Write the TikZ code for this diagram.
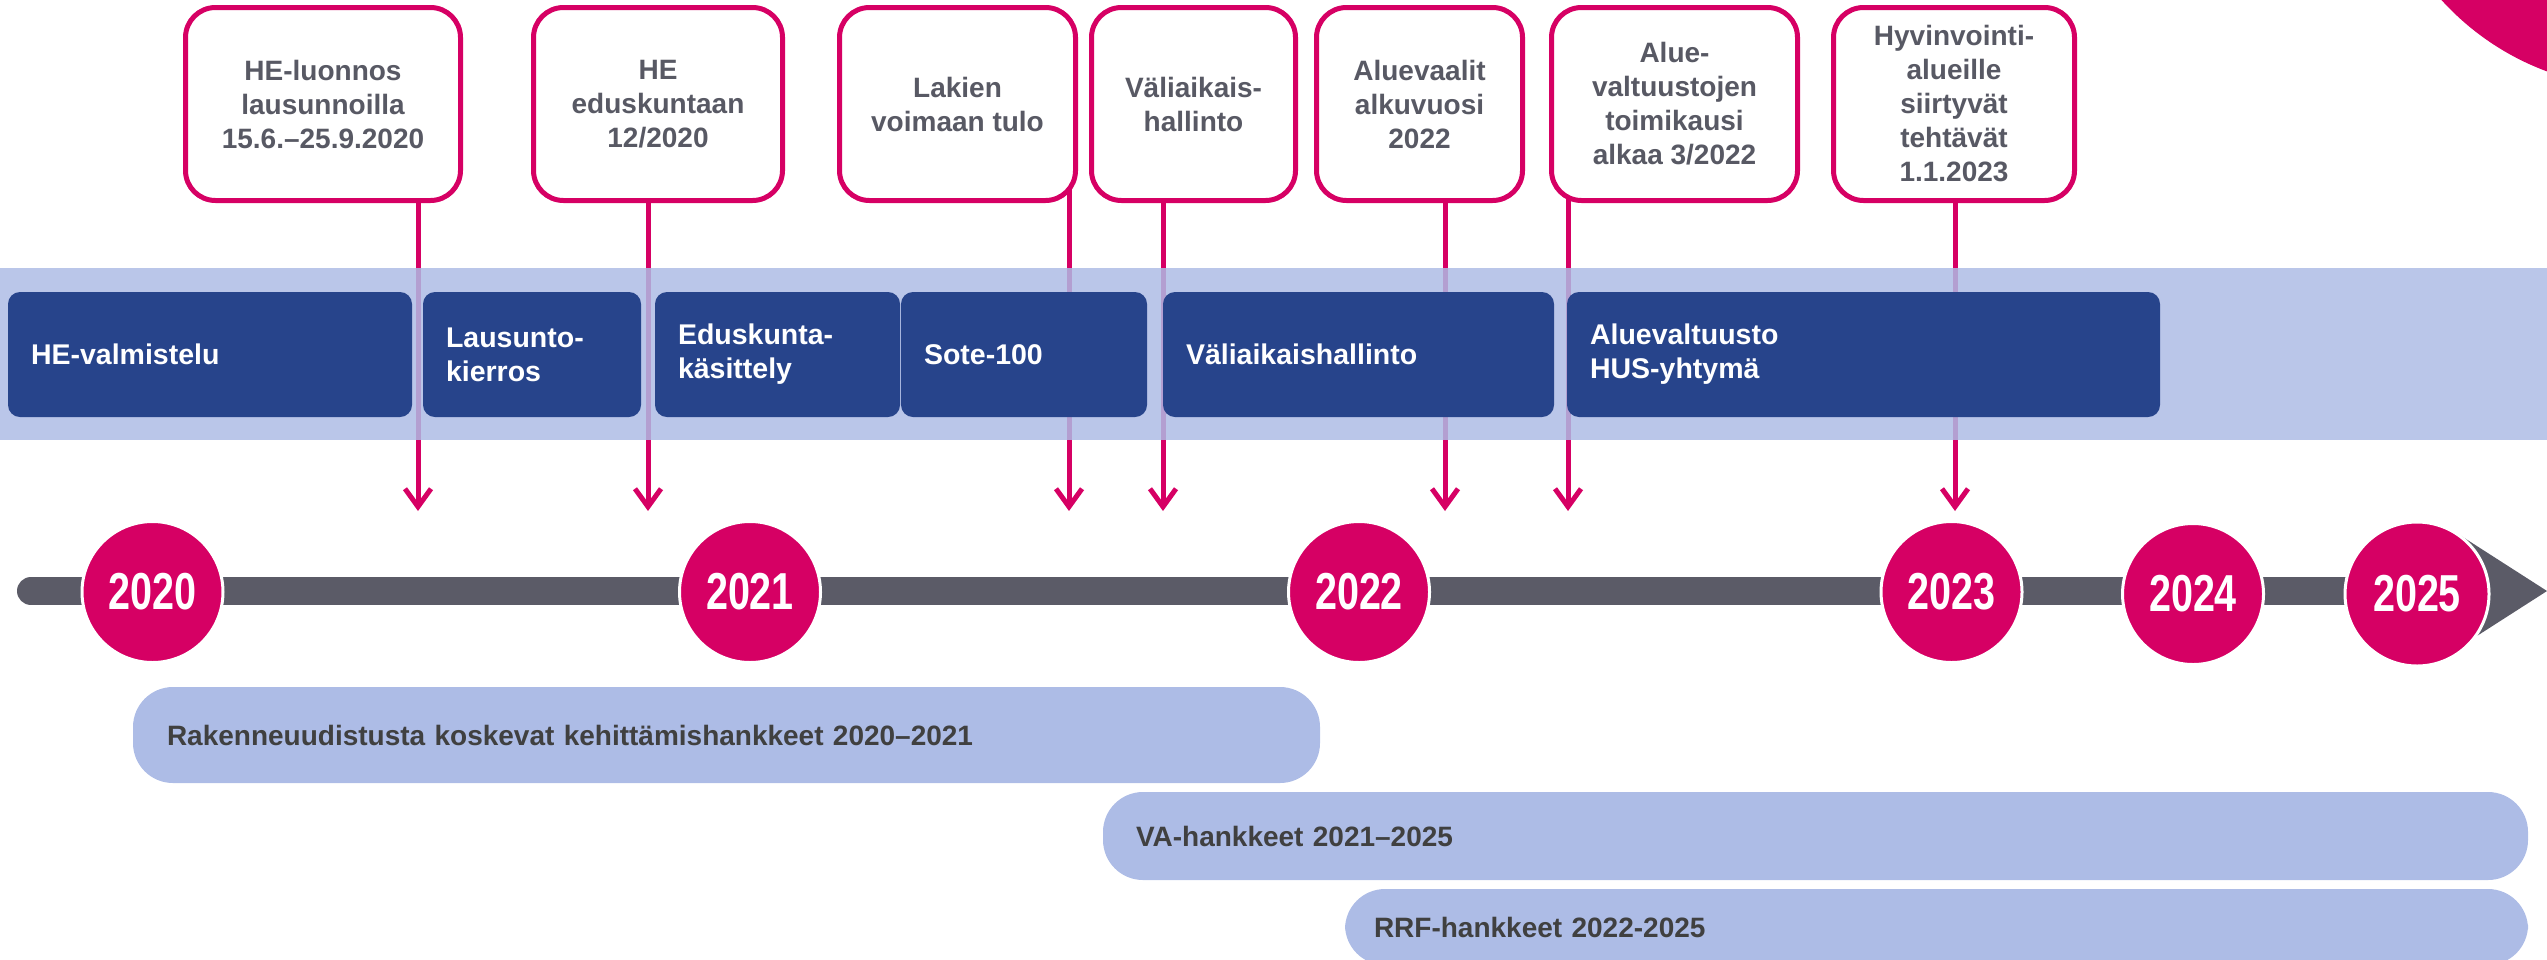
\documentclass[tikz,border=0pt]{standalone}
\usepackage{fontspec}
\setmainfont{Liberation Sans}
\usepackage{graphicx}
\usetikzlibrary{arrows.meta}
\definecolor{mag}{RGB}{214,0,100}
\definecolor{dblue}{RGB}{39,68,139}
\definecolor{bandc}{RGB}{174,188,229}
\definecolor{pbarc}{RGB}{173,188,230}
\definecolor{tlgrey}{RGB}{91,91,103}
\definecolor{ctext}{RGB}{88,89,100}
\definecolor{btext}{RGB}{64,64,64}
\newcommand\yrtxt[1]{\scalebox{0.76}[1]{#1}}
\pgfdeclarelayer{bg}
\pgfsetlayers{bg,main}
\begin{document}
\begin{tikzpicture}[x=1pt,y=-1pt,
  callout/.style={draw=mag, line width=5pt, fill=white, rounded corners=30pt,
    minimum height=193pt, align=center, text=ctext, inner sep=0pt,
    font=\bfseries\fontsize{28}{34}\selectfont},
  conn/.style={draw=mag, line width=5pt, -{Straight Barb[length=18pt,width=26pt]}},
  dbox/.style={fill=dblue, rounded corners=12pt, minimum height=125pt, text=white,
    align=left, inner xsep=23pt, inner ysep=0pt,
    font=\bfseries\fontsize{28.5}{34}\selectfont},
  yr/.style={circle, fill=mag, draw=white, line width=3pt, minimum size=141pt,
    inner sep=0pt, text=white, font=\bfseries\fontsize{52}{52}\selectfont},
  pbar/.style={fill=pbarc, rounded corners=40pt, align=left, text=btext, inner ysep=0pt,
    font=\bfseries\fontsize{28}{34}\selectfont}
]
\useasboundingbox (0,0) rectangle (2547,959);
\begin{scope}
\clip (0,0) rectangle (2547,959);
\fill[mag] (2640,-180) circle[radius=268pt];

% callouts
\node[callout, minimum width=275pt] (c1) at (323,104) {HE-luonnos\\lausunnoilla\\15.6.–25.9.2020};
\node[callout, minimum width=249pt] (c2) at (658,104) {HE\\eduskuntaan\\12/2020};
\node[callout, minimum width=236pt] (c3) at (957.5,104) {Lakien\\voimaan tulo};
\node[callout, minimum width=204pt] (c4) at (1193.5,104) {Väliaikais-\\hallinto};
\node[callout, minimum width=206pt] (c5) at (1419.5,104) {Aluevaalit\\alkuvuosi\\2022};
\node[callout, minimum width=246pt] (c6) at (1674.5,104) {Alue-\\valtuustojen\\toimikausi\\alkaa 3/2022};
\node[callout, minimum width=241pt] (c7) at (1954,104) {Hyvinvointi-\\alueille\\siirtyvät\\tehtävät\\1.1.2023};

\begin{pgfonlayer}{bg}
\foreach \i/\x in {1/418,2/648,3/1069,4/1163,5/1445,6/1568,7/1955} {
  \coordinate (t\i) at (\x,511);
  \draw[conn] (t\i |- c\i.center) -- (t\i);
}
\end{pgfonlayer}

% band
\fill[bandc, fill opacity=0.85] (0,268) rectangle (2547,440);

% dark boxes
\node[dbox, minimum width=404pt, text width=358pt] (d1) at (210,354.5) {HE-valmistelu};
\node[dbox, minimum width=218pt, text width=172pt] (d2) at (532,354.5) {Lausunto-\\kierros};
\node[dbox, minimum width=245pt, text width=199pt] (d3) at (777.5,354.5) {Eduskunta-\\käsittely};
\node[dbox, minimum width=246pt, text width=200pt] (d4) at (1024,354.5) {Sote-100};
\node[dbox, minimum width=391pt, text width=345pt] (d5) at (1358.5,354.5) {Väliaikaishallinto};
\node[dbox, minimum width=593pt, text width=547pt] (d6) at (1863.5,354.5) {Aluevaltuusto\\HUS-yhtymä};

% timeline
\coordinate (tl0) at (31,591);
\coordinate (tl1) at (2440,591);
\draw[tlgrey, line width=28pt, line cap=round] (tl0) -- (tl1);
\fill[tlgrey] (2455,532) -- (2547,591) -- (2455,650) -- cycle;

\node[yr] (y2020) at (152.5,592) {\yrtxt{2020}};
\node[yr] (y2021) at (750,592) {\yrtxt{2021}};
\node[yr] (y2022) at (1359,592) {\yrtxt{2022}};
\node[yr] (y2023) at (1951.5,592) {\yrtxt{2023}};
\node[yr] (y2024) at (2193,594) {\yrtxt{2024}};
\node[yr, minimum size=144pt] (y2025) at (2417,594) {\yrtxt{2025}};

% project bars
\node[pbar, minimum width=1187pt, minimum height=96pt, inner xsep=34pt, text width=1119pt] (b1) at (726.5,735) {Rakenneuudistusta koskevat kehittämishankkeet 2020–2021};
\node[pbar, minimum width=1425pt, minimum height=88pt, inner xsep=33pt, text width=1359pt] (b2) at (1815.5,836) {VA-hankkeet 2021–2025};
\node[pbar, minimum width=1183pt, minimum height=76pt, inner xsep=29pt, text width=1125pt] (b3) at (1936.5,927) {RRF-hankkeet 2022-2025};
\end{scope}
\end{tikzpicture}
\end{document}
